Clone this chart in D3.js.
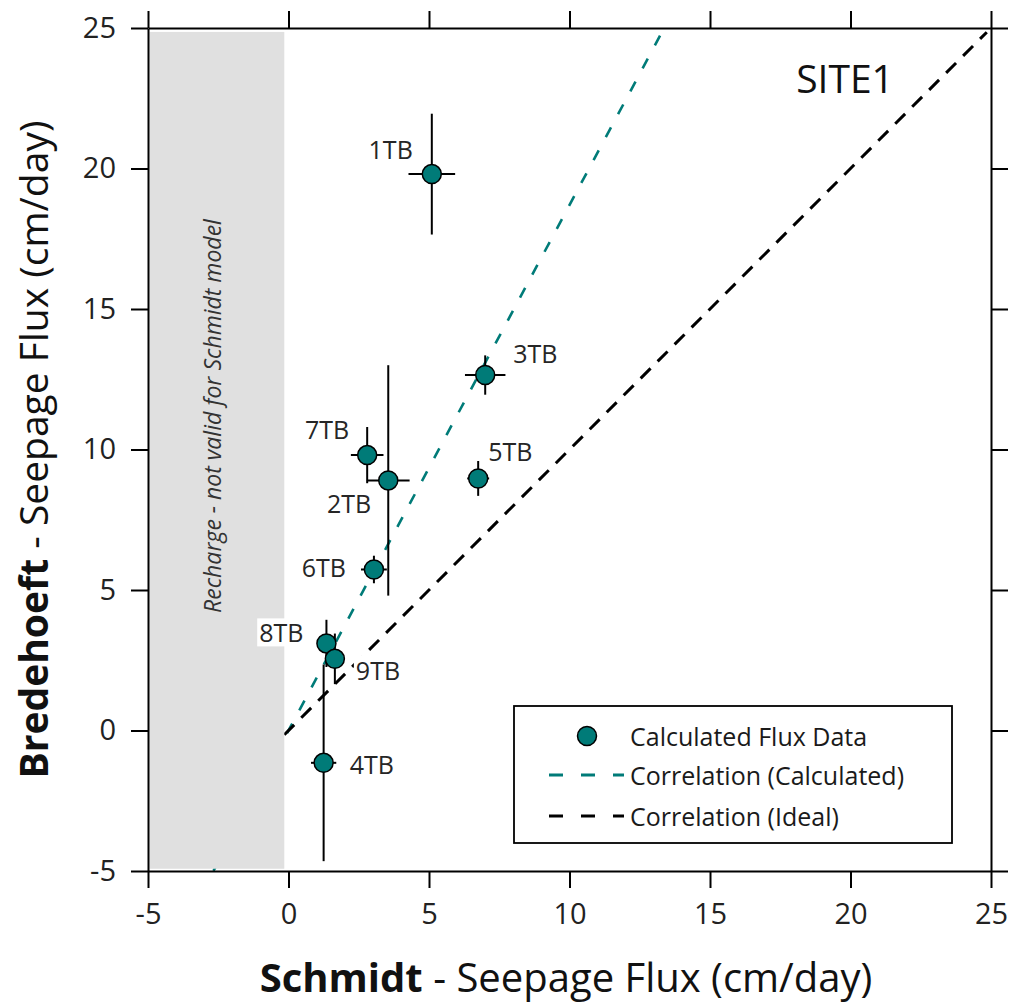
<!DOCTYPE html>
<html>
<head>
<meta charset="utf-8">
<script src="https://cdn.jsdelivr.net/npm/d3@7"></script>
<style>
  body { margin: 0; background: #fff; }
  svg { display: block; }
  text { font-family: "Open Sans", "Noto Sans", sans-serif; }
</style>
</head>
<body>
<script>
// Seepage flux comparison at SITE1: Schmidt model (x) vs Bredehoeft model (y), cm/day
const sites          = ["1TB", "2TB", "3TB", "4TB", "5TB", "6TB", "7TB", "8TB", "9TB"];
const schmidtFlux    = [5.10, 3.55, 7.00, 1.25, 6.75, 3.04, 2.80, 1.35, 1.65];
const schmidtErr     = [0.83, 0.76, 0.72, 0.45, 0.39, 0.46, 0.58, 0.30, 0.35];
const bredehoeftFlux = [19.80, 8.90, 12.65, -1.15, 8.97, 5.73, 9.80, 3.10, 2.55];
const bredehoeftErr  = [2.15, 4.10, 0.70, 3.50, 0.62, 0.49, 1.00, 0.84, 0.90];

// Correlation lines (slope, intercept, x extent)
const calcSlope = 1.87, calcIntercept = 0.0, calcXRange = [-2.67, 13.25];
const idealSlope = 1.0, idealIntercept = 0.0, idealXRange = [-0.15, 24.85];

// Region where the Schmidt model does not apply (recharge)
const rechargeX = [-4.95, -0.15];
const rechargeY = [-4.92, 24.86];

const axisTicks = [-5, 0, 5, 10, 15, 20, 25];
const axisDomain = [-5, 25];

const legendLabels = ["Calculated Flux Data", "Correlation (Calculated)", "Correlation (Ideal)"];

// Label placement around each point: [dx, dy, anchor]
const labelPlacement = [
  [-19, -25, "end"], [-17, 23, "end"], [28, -22, "start"],
  [26, 1, "start"], [10, -27, "start"], [-28, -2, "end"],
  [-18, -26, "end"], [-23, -11, "end"], [21, 11, "start"]
];

const W = 1011, H = 1007;
const plot = { left: 148, right: 991, top: 28, bottom: 871 };
const teal = "#007b78";

const svg = d3.select("body").append("svg").attr("width", W).attr("height", H);

const x = d3.scaleLinear().domain(axisDomain).range([plot.left, plot.right]);
const y = d3.scaleLinear().domain(axisDomain).range([plot.bottom, plot.top]);

const data = sites.map((s, i) => ({
  site: s, x: schmidtFlux[i], xe: schmidtErr[i], y: bredehoeftFlux[i], ye: bredehoeftErr[i],
  place: labelPlacement[i]
}));

// correlation lines
const lineGen = d3.line().x(d => x(d[0])).y(d => y(d[1]));
const calcPts = calcXRange.map(v => [v, calcSlope * v + calcIntercept]);
const idealPts = idealXRange.map(v => [v, idealSlope * v + idealIntercept]);

svg.append("path").attr("d", lineGen(calcPts))
  .attr("fill", "none").attr("stroke", teal).attr("stroke-width", 2.6)
  .attr("stroke-dasharray", "11,15");
svg.append("path").attr("d", lineGen(idealPts))
  .attr("fill", "none").attr("stroke", "#000").attr("stroke-width", 3)
  .attr("stroke-dasharray", "14,10");

// recharge band
svg.append("rect")
  .attr("x", x(rechargeX[0])).attr("y", y(rechargeY[1]))
  .attr("width", x(rechargeX[1]) - x(rechargeX[0]))
  .attr("height", y(rechargeY[0]) - y(rechargeY[1]))
  .attr("fill", "#e0e0e0");

const bandCx = (x(rechargeX[0]) + x(rechargeX[1])) / 2 + 4;
svg.append("text")
  .attr("transform", `translate(${bandCx},416) rotate(-90)`)
  .attr("text-anchor", "middle")
  .attr("font-style", "italic").attr("font-size", 23).attr("fill", "#333")
  .text("Recharge - not valid for Schmidt model");

// axes: outward ticks on all four sides
const fmt = d => String(d);
function styleAxis(g, hideLabels) {
  g.select(".domain").attr("stroke", "#000").attr("stroke-width", 2);
  g.selectAll(".tick line").attr("stroke", "#000").attr("stroke-width", 2);
  g.selectAll(".tick text").attr("font-size", 29).attr("fill", "#222")
    .attr("font-family", "'Open Sans', sans-serif");
  if (hideLabels) g.selectAll(".tick text").remove();
}
svg.append("g").attr("transform", `translate(0,${plot.bottom})`)
  .call(d3.axisBottom(x).tickValues(axisTicks).tickFormat(fmt).tickSize(17).tickSizeOuter(0).tickPadding(15))
  .call(g => styleAxis(g, false));
svg.append("g").attr("transform", `translate(0,${plot.top})`)
  .call(d3.axisTop(x).tickValues(axisTicks).tickSize(17).tickSizeOuter(0))
  .call(g => styleAxis(g, true));
svg.append("g").attr("transform", `translate(${plot.left},0)`)
  .call(d3.axisLeft(y).tickValues(axisTicks).tickFormat(fmt).tickSize(17).tickSizeOuter(0).tickPadding(15))
  .call(g => styleAxis(g, false));
svg.append("g").attr("transform", `translate(${plot.right},0)`)
  .call(d3.axisRight(y).tickValues(axisTicks).tickSize(17).tickSizeOuter(0))
  .call(g => styleAxis(g, true));

// point labels with white backing
const labels = svg.append("g");
data.forEach(d => {
  const t = labels.append("text")
    .attr("x", x(d.x) + d.place[0]).attr("y", y(d.y) + d.place[1])
    .attr("text-anchor", d.place[2]).attr("dominant-baseline", "central")
    .attr("font-size", 25).attr("fill", "#262626").text(d.site);
  const b = t.node().getBBox();
  labels.insert("rect", () => t.node())
    .attr("x", b.x - 2).attr("y", b.y + 3).attr("width", b.width + 4).attr("height", b.height - 6)
    .attr("fill", "#fff");
});

// error bars
const bars = svg.append("g").attr("stroke", "#000").attr("stroke-width", 2);
bars.selectAll(".ex").data(data).join("line")
  .attr("x1", d => x(d.x - d.xe)).attr("x2", d => x(d.x + d.xe))
  .attr("y1", d => y(d.y)).attr("y2", d => y(d.y));
bars.selectAll(".ey").data(data).join("line")
  .attr("x1", d => x(d.x)).attr("x2", d => x(d.x))
  .attr("y1", d => y(d.y - d.ye)).attr("y2", d => y(d.y + d.ye));

// points
svg.append("g").selectAll("circle").data(data).join("circle")
  .attr("cx", d => x(d.x)).attr("cy", d => y(d.y)).attr("r", 9.5)
  .attr("fill", teal).attr("stroke", "#000").attr("stroke-width", 1.5);

// site name
svg.append("text").attr("x", 845).attr("y", 93).attr("text-anchor", "middle")
  .attr("font-size", 39).attr("fill", "#111").text("SITE1");

// legend
const lg = svg.append("g");
lg.append("rect").attr("x", 514).attr("y", 706).attr("width", 438).attr("height", 137)
  .attr("fill", "#fff").attr("stroke", "#000").attr("stroke-width", 1.8);
const rowY = [736, 775, 816];
lg.append("circle").attr("cx", 587).attr("cy", rowY[0]).attr("r", 9.5)
  .attr("fill", teal).attr("stroke", "#000").attr("stroke-width", 1.5);
lg.append("line").attr("x1", 549).attr("x2", 624).attr("y1", rowY[1]).attr("y2", rowY[1])
  .attr("stroke", teal).attr("stroke-width", 3).attr("stroke-dasharray", "14,18");
lg.append("line").attr("x1", 549).attr("x2", 624).attr("y1", rowY[2]).attr("y2", rowY[2])
  .attr("stroke", "#000").attr("stroke-width", 3).attr("stroke-dasharray", "14,18");
lg.selectAll("text.lt").data(legendLabels).join("text")
  .attr("x", 630).attr("y", (d, i) => rowY[i]).attr("dominant-baseline", "central")
  .attr("font-size", 25).attr("fill", "#1a1a1a").text(d => d);

// axis titles
const xt = svg.append("text").attr("x", 566).attr("y", 992)
  .attr("text-anchor", "middle").attr("font-size", 40).attr("fill", "#111");
xt.append("tspan").attr("font-weight", "bold").text("Schmidt");
xt.append("tspan").text(" - Seepage Flux (cm/day)");

const yt = svg.append("text")
  .attr("transform", `translate(48,${(plot.top + plot.bottom) / 2}) rotate(-90)`)
  .attr("text-anchor", "middle").attr("font-size", 39).attr("fill", "#111");
yt.append("tspan").attr("font-weight", "bold").text("Bredehoeft");
yt.append("tspan").text(" - Seepage Flux (cm/day)");
</script>
</body>
</html>
